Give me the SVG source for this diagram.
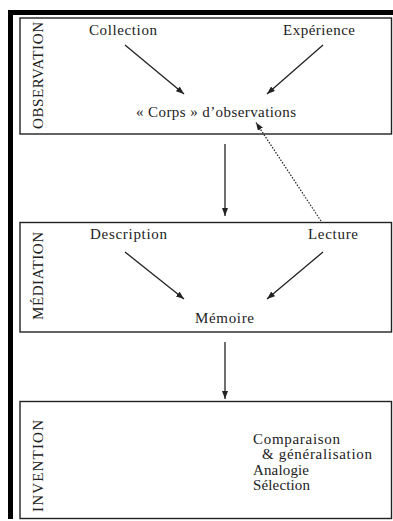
<svg xmlns="http://www.w3.org/2000/svg" width="393" height="521" viewBox="0 0 393 521">
  <style>
    .frame { fill: #000; }
    .box { fill: #fff; stroke: #222; stroke-width: 1.4; }
    .lbl { font-family: "Liberation Serif", "Times New Roman", serif; font-size: 15px; fill: #222; }
    .side { font-family: "Liberation Serif", "Times New Roman", serif; font-size: 15px; fill: #222; }
    .conn { stroke: #222; stroke-width: 1.3; fill: none; }
    .dot { stroke: #222; stroke-width: 1.2; fill: none; stroke-dasharray: 1.5 1.5; }
  </style>
  <defs>
    <marker id="arr" viewBox="0 0 8 6" refX="8" refY="3" markerWidth="8" markerHeight="6" markerUnits="userSpaceOnUse" orient="auto">
      <path d="M0,0 L8,3 L0,6 z" fill="#222"/>
    </marker>
  </defs>
  <rect width="393" height="521" fill="#fff"/>
  <rect class="frame" x="8" y="10" width="385" height="5"/>
  <rect class="frame" x="8" y="10" width="5" height="509"/>

  <g id="observation">
    <rect class="box" x="20" y="18" width="371.5" height="116"/>
    <text class="side" transform="translate(43,129) rotate(-90)" textLength="107">OBSERVATION</text>
    <text class="lbl" x="89" y="35" textLength="68">Collection</text>
    <text class="lbl" x="283" y="35" textLength="72">Expérience</text>
    <text class="lbl" x="136" y="117" textLength="160">« Corps » d’observations</text>
  </g>

  <g id="mediation">
    <rect class="box" x="20" y="222.5" width="371.5" height="109.5"/>
    <text class="side" transform="translate(43,320) rotate(-90)" textLength="88">MÉDIATION</text>
    <text class="lbl" x="90" y="239" textLength="77">Description</text>
    <text class="lbl" x="308" y="239" textLength="50">Lecture</text>
    <text class="lbl" x="195" y="323" textLength="59">Mémoire</text>
  </g>

  <g id="invention">
    <rect class="box" x="20" y="401.5" width="371.5" height="117"/>
    <text class="side" transform="translate(43,512) rotate(-90)" textLength="92">INVENTION</text>
    <text class="lbl" x="253" y="443.5" textLength="87">Comparaison</text>
    <text class="lbl" x="262" y="459" textLength="110">&amp; généralisation</text>
    <text class="lbl" x="253" y="474.5" textLength="56">Analogie</text>
    <text class="lbl" x="253" y="490" textLength="57">Sélection</text>
  </g>

  <g id="connectors">
    <line class="conn" x1="125" y1="45" x2="184" y2="94" marker-end="url(#arr)"/>
    <line class="conn" x1="323" y1="45" x2="267" y2="94" marker-end="url(#arr)"/>
    <line class="conn" x1="225" y1="144" x2="225" y2="216" marker-end="url(#arr)"/>
    <line class="dot" x1="321" y1="221" x2="256" y2="122.5" marker-end="url(#arr)"/>
    <line class="conn" x1="125" y1="252" x2="184" y2="299" marker-end="url(#arr)"/>
    <line class="conn" x1="323" y1="252" x2="267" y2="299" marker-end="url(#arr)"/>
    <line class="conn" x1="225" y1="342" x2="225" y2="399" marker-end="url(#arr)"/>
  </g>
</svg>
